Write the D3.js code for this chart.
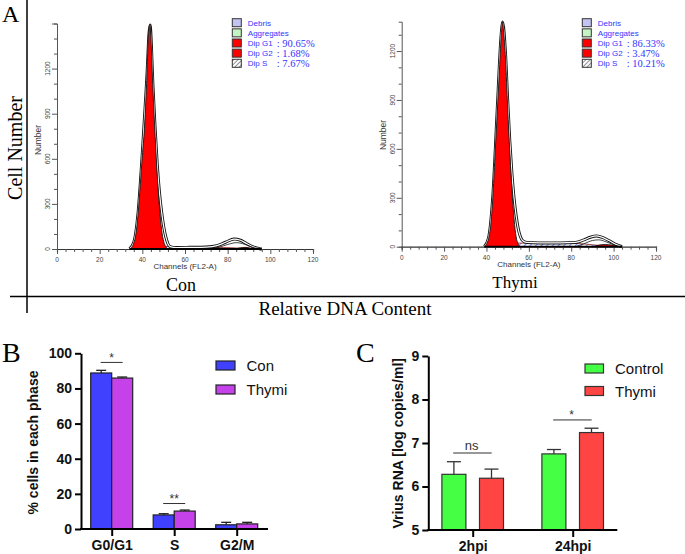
<!DOCTYPE html>
<html><head><meta charset="utf-8">
<script src="https://cdn.jsdelivr.net/npm/d3@7"></script>
<style>body{margin:0;background:#fff}svg{display:block}</style>
</head><body>
<svg id="c" width="685" height="554"></svg>
<script>
// ---------- DATA ----------
// Histogram samples [channel, count]
const conG1 = [[34,0],[35,10],[36,40],[37,100],[38,230],[39,420],[40,620],[41,800],[42,1100],[43,1450],[43.6,1490],[44,1400],[45,1050],[46,750],[47,480],[48,280],[49,130],[50,50],[51,15],[52,0]];
const conFit = [[34,0],[36,45],[38,240],[40,640],[42,1110],[43.6,1490],[45,1080],[46,800],[47,560],[48,380],[49,250],[50,150],[51,80],[52,35],[53,16],[56,10],[62,11],[70,13],[75,22],[79,45],[83,66],[86,58],[89,35],[92,14],[95,2],[96,0]];
const conInner = [[72,0],[76,12],[80,30],[84,42],[87,36],[90,20],[93,6],[95,0]];
const conS = [[38,0],[42,14],[47,20],[52,16],[60,12],[70,11],[78,10],[85,6],[90,0]];
const conG2 = [[83,0],[86,7],[88,11],[90,8],[92,0]];
const conAgg = [[84,0],[86,8],[88,10],[90,5],[91,0]];

const thyG1 = [[39,0],[40,15],[41,50],[42,130],[43,300],[44,550],[45,800],[46,1050],[47,1300],[47.6,1378],[48,1330],[49,1150],[50,850],[51,580],[52,350],[53,170],[54,60],[55,15],[56,0]];
const thyFit = [[39,0],[41,55],[43,310],[45,820],[47,1310],[47.6,1378],[49,1180],[50,900],[51,650],[52,450],[53,300],[54,190],[55,110],[56,62],[57,38],[59,26],[65,23],[75,23],[82,26],[86,42],[89,58],[92,66],[95,56],[98,36],[101,14],[104,0]];
const thyInner = [[82,0],[86,18],[90,38],[93,42],[96,32],[100,12],[103,0]];
const thyS = [[43,0],[47,14],[53,22],[62,22],[72,22],[82,20],[90,12],[97,0]];
const thyG2 = [[90,0],[93,10],[96,14],[99,10],[102,0]];
const thyAgg = [[95,0],[97,5],[99,6],[101,0]];

const legendLabels = ["Debris","Aggregates","Dip G1","Dip G2","Dip S"];
const conPct = ["","","90.65%","1.68%","7.67%"];
const thyPct = ["","","86.33%","3.47%","10.21%"];
const histYTicks = [0,300,600,900,1200];
const histXTicks = [0,20,40,60,80,100,120];

// Panel B
const phases = ["G0/G1","S","G2/M"];
const conMean = [88.8,8.0,2.4];
const conErr = [1.5,0.7,1.4];
const thymiMean = [85.9,10.2,2.9];
const thymiErr = [0.6,0.6,0.9];
const bTicks = [0,20,40,60,80,100];

// Panel C
const times = ["2hpi","24hpi"];
const ctrlRNA = [6.28,6.75];
const ctrlRNAErr = [0.29,0.10];
const thyRNA = [6.19,7.24];
const thyRNAErr = [0.21,0.10];
const cTicks = [5,6,7,8,9];

// ---------- DRAW ----------
const svg = d3.select("#c");
const defs = svg.append("defs");
const pat = defs.append("pattern").attr("id","hatch").attr("patternUnits","userSpaceOnUse")
  .attr("width",4).attr("height",4).attr("patternTransform","rotate(45)");
pat.append("rect").attr("width",4).attr("height",4).attr("fill","#fff");
pat.append("line").attr("x1",0).attr("y1",0).attr("x2",0).attr("y2",4).attr("stroke","#3344ff").attr("stroke-width",1.3);
const pat2 = defs.append("pattern").attr("id","hatch2").attr("patternUnits","userSpaceOnUse")
  .attr("width",3).attr("height",3).attr("patternTransform","rotate(45)");
pat2.append("rect").attr("width",3).attr("height",3).attr("fill","#fff");
pat2.append("line").attr("x1",0).attr("y1",0).attr("x2",0).attr("y2",3).attr("stroke","#223").attr("stroke-width",1);

const serif = "'Liberation Serif','Times New Roman',serif";
const sans = "'Liberation Sans',Arial,sans-serif";

// frame
svg.append("line").attr("x1",27).attr("x2",27).attr("y1",0).attr("y2",313).attr("stroke","#000").attr("stroke-width",1.5);
svg.append("line").attr("x1",10).attr("x2",685).attr("y1",296.5).attr("y2",296.5).attr("stroke","#000").attr("stroke-width",1.5);
svg.append("text").attr("x",2).attr("y",21.5).attr("font-family",serif).attr("font-size",24).text("A");
svg.append("text").attr("transform","translate(22,148) rotate(-90)").attr("text-anchor","middle")
  .attr("font-family",serif).attr("font-size",20).text("Cell Number");
svg.append("text").attr("x",345).attr("y",315).attr("text-anchor","middle")
  .attr("font-family",serif).attr("font-size",19).text("Relative DNA Content");

function histogram(cfg){
  const x = d3.scaleLinear().domain([0,120]).range([cfg.x0,cfg.x1]);
  const y = d3.scaleLinear().domain([0,cfg.ymax]).range([cfg.y0,cfg.yTop]);
  const g = svg.append("g");
  const area = d3.area().x(d=>x(d[0])).y0(y(0)).y1(d=>y(d[1])).curve(d3.curveMonotoneX);
  const line = d3.line().x(d=>x(d[0])).y(d=>y(d[1])).curve(d3.curveMonotoneX);
  // axes
  const yAx = d3.axisLeft(y).tickValues(d3.range(0,cfg.ymax+1,100)).tickSize(3).tickFormat("");
  const ga = g.append("g").attr("transform",`translate(${cfg.x0},0)`).call(yAx);
  ga.selectAll("path,line").attr("stroke","#555");
  ga.selectAll(".tick line").filter(d=>d%300===0).attr("x2",-5);
  histYTicks.forEach(t=>{
    g.append("text").attr("transform",`translate(${cfg.x0-7},${y(t)}) rotate(-90)`).attr("text-anchor","middle")
      .attr("font-family",sans).attr("font-size",6.5).attr("fill","#444").text(t);
  });
  const xAx = d3.axisBottom(x).tickValues(d3.range(0,121,4)).tickSize(3).tickFormat("");
  const gx = g.append("g").attr("transform",`translate(0,${cfg.y0})`).call(xAx);
  gx.selectAll("path,line").attr("stroke","#555");
  gx.selectAll(".tick line").filter(d=>d%20===0).attr("y2",5);
  gx.select("path").attr("stroke","#333").attr("stroke-width",1.2);
  histXTicks.forEach(t=>{
    g.append("text").attr("x",x(t)).attr("y",cfg.y0+13).attr("text-anchor","middle")
      .attr("font-family",sans).attr("font-size",6.5).attr("fill","#444").text(t);
  });
  g.append("text").attr("x",x(60)).attr("y",cfg.y0+20).attr("text-anchor","middle")
    .attr("font-family",sans).attr("font-size",8).attr("fill","#333").text("Channels (FL2-A)");
  g.append("text").attr("transform",`translate(${cfg.x0-16},${cfg.numY}) rotate(-90)`).attr("text-anchor","middle")
    .attr("font-family",sans).attr("font-size",8.5).attr("fill","#333").text("Number");
  // marks
  g.append("path").datum(cfg.S).attr("d",area).attr("fill","url(#hatch)").attr("stroke","#8a1a1a").attr("stroke-width",0.8);
  g.append("path").datum(cfg.fit).attr("d",line).attr("fill","none").attr("stroke","#111").attr("stroke-width",3);
  g.append("path").datum(cfg.fit).attr("d",line).attr("fill","none").attr("stroke","#fff").attr("stroke-width",1.2);
  g.append("path").datum(cfg.G1).attr("d",area).attr("fill","#ff0000").attr("stroke","#222").attr("stroke-width",1);
  g.append("path").datum(cfg.inner).attr("d",line).attr("fill","none").attr("stroke","#111").attr("stroke-width",0.8);
  g.append("path").datum(cfg.agg).attr("d",area).attr("fill","#9ee89e").attr("stroke","#222").attr("stroke-width",0.6);
  g.append("path").datum(cfg.G2).attr("d",area).attr("fill","#cc0000").attr("stroke","#111").attr("stroke-width",0.8);
  g.append("line").attr("x1",x(cfg.G1[0][0])).attr("x2",x(cfg.fit[cfg.fit.length-1][0])).attr("y1",cfg.y0).attr("y2",cfg.y0)
    .attr("stroke","#000").attr("stroke-width",1.8);
  // legend
  const fills = ["#c4c4f4","#c4f4c4","#ff0000","#ff0000","url(#hatch2)"];
  legendLabels.forEach((lab,i)=>{
    const yy = 22.7 + i*10.15;
    g.append("rect").attr("x",cfg.lx).attr("y",yy-4).attr("width",9).attr("height",8)
      .attr("fill",fills[i]).attr("stroke","#333").attr("stroke-width",1);
    g.append("text").attr("x",cfg.lx+15.5).attr("y",yy+3).attr("font-family",sans).attr("font-size",8)
      .attr("fill","#3333ff").text(lab);
    if(cfg.pct[i]){
      g.append("text").attr("x",cfg.lx+44.5).attr("y",yy+3.5).attr("font-family",serif).attr("font-size",10.5)
        .attr("fill","#3333ff").text(":\u00a0" + cfg.pct[i]);
    }
  });
  g.append("text").attr("x",cfg.nameX).attr("y",cfg.nameY).attr("text-anchor","middle")
    .attr("font-family",serif).attr("font-size",cfg.nameSize).text(cfg.name);
}

histogram({x0:57,x1:313,y0:249,yTop:23.5,ymax:1500,G1:conG1,fit:conFit,inner:conInner,S:conS,G2:conG2,agg:conAgg,
  lx:232.3,pct:conPct,name:"Con",nameX:181,nameY:291,nameSize:18,numY:140});
histogram({x0:401.7,x1:656,y0:246.7,yTop:21.7,ymax:1380,G1:thyG1,fit:thyFit,inner:thyInner,S:thyS,G2:thyG2,agg:thyAgg,
  lx:582.3,pct:thyPct,name:"Thymi",nameX:515,nameY:288,nameSize:17,numY:135});

// ---------- Panel B ----------
(function(){
  const g = svg.append("g");
  const y = d3.scaleLinear().domain([0,100]).range([529,353.3]);
  const x = d3.scalePoint().domain(phases).range([111.7,236.7]);
  const bw = 21;
  g.append("text").attr("x",2).attr("y",362).attr("font-family",serif).attr("font-size",28).text("B");
  const series = [{m:conMean,e:conErr,c:"#4040ff",o:-1},{m:thymiMean,e:thymiErr,c:"#c542ea",o:0}];
  series.forEach(s=>{
    phases.forEach((p,i)=>{
      const bx = x(p)+s.o*bw;
      g.append("line").attr("x1",bx+bw/2).attr("x2",bx+bw/2).attr("y1",y(s.m[i])).attr("y2",y(s.m[i]+s.e[i])).attr("stroke","#222").attr("stroke-width",1.3);
      g.append("line").attr("x1",bx+bw/2-5).attr("x2",bx+bw/2+5).attr("y1",y(s.m[i]+s.e[i])).attr("y2",y(s.m[i]+s.e[i])).attr("stroke","#222").attr("stroke-width",1.3);
      g.append("rect").attr("x",bx).attr("y",y(s.m[i])).attr("width",bw).attr("height",y(0)-y(s.m[i]))
        .attr("fill",s.c).attr("stroke","#222").attr("stroke-width",1.2);
    });
  });
  const yAx = d3.axisLeft(y).tickValues(bTicks).tickSize(6).tickPadding(3).tickSizeOuter(0);
  const ga = g.append("g").attr("transform","translate(81,0)").call(yAx);
  ga.selectAll("path,line").attr("stroke","#000").attr("stroke-width",2);
  ga.selectAll("text").attr("font-family",sans).attr("font-size",14).attr("font-weight","bold").attr("fill","#111");
  g.append("line").attr("x1",80).attr("x2",268).attr("y1",529).attr("y2",529).attr("stroke","#000").attr("stroke-width",2);
  const xAx = d3.axisBottom(x).tickSize(7).tickPadding(4).tickSizeOuter(0);
  const gx = g.append("g").attr("transform","translate(0,529)").call(xAx);
  gx.select("path").remove();
  gx.selectAll("line").attr("stroke","#000").attr("stroke-width",2);
  gx.selectAll("text").attr("font-family",sans).attr("font-size",14).attr("font-weight","bold").attr("fill","#111");
  g.append("text").attr("transform","translate(38,442.5) rotate(-90)").attr("text-anchor","middle")
    .attr("font-family",sans).attr("font-size",14).attr("font-weight","bold").attr("fill","#111").text("% cells in each phase");
  // significance
  const sig = [{p:"G0/G1",yv:94.8,t:"*"},{p:"S",yv:14.5,t:"**"}];
  sig.forEach(s=>{
    const yy = y(s.yv);
    g.append("line").attr("x1",x(s.p)-11).attr("x2",x(s.p)+11).attr("y1",yy).attr("y2",yy).attr("stroke","#333").attr("stroke-width",1);
    g.append("text").attr("x",x(s.p)).attr("y",yy-0.5).attr("text-anchor","middle").attr("font-family",sans)
      .attr("font-size",12).attr("fill","#333").text(s.t);
  });
  // legend
  const leg = [["Con","#4040ff"],["Thymi","#c542ea"]];
  leg.forEach((l,i)=>{
    const yy = 365.5 + i*24;
    g.append("rect").attr("x",216).attr("y",yy-4.5).attr("width",19).attr("height",9).attr("fill",l[1]).attr("stroke","#222").attr("stroke-width",1.2);
    g.append("text").attr("x",246.5).attr("y",yy+5.5).attr("font-family",sans).attr("font-size",15).attr("fill","#111").text(l[0]);
  });
})();

// ---------- Panel C ----------
(function(){
  const g = svg.append("g");
  const y = d3.scaleLinear().domain([5,9]).range([530,356]);
  const x = d3.scalePoint().domain(times).range([472.7,572.7]);
  const bw = 24, off = 18.8;
  g.append("text").attr("x",356).attr("y",361.5).attr("font-family",serif).attr("font-size",28).text("C");
  const series = [{m:ctrlRNA,e:ctrlRNAErr,c:"#44ff44",o:-off},{m:thyRNA,e:thyRNAErr,c:"#ff4444",o:off}];
  series.forEach(s=>{
    times.forEach((t,i)=>{
      const cx = x(t)+s.o;
      g.append("line").attr("x1",cx).attr("x2",cx).attr("y1",y(s.m[i])).attr("y2",y(s.m[i]+s.e[i])).attr("stroke","#333").attr("stroke-width",1.3);
      g.append("line").attr("x1",cx-7).attr("x2",cx+7).attr("y1",y(s.m[i]+s.e[i])).attr("y2",y(s.m[i]+s.e[i])).attr("stroke","#333").attr("stroke-width",1.3);
      g.append("rect").attr("x",cx-bw/2).attr("y",y(s.m[i])).attr("width",bw).attr("height",y(5)-y(s.m[i]))
        .attr("fill",s.c).attr("stroke","#333").attr("stroke-width",1.2);
    });
  });
  const yAx = d3.axisLeft(y).tickValues(cTicks).tickFormat(d3.format("d")).tickSize(6).tickPadding(3).tickSizeOuter(0);
  const ga = g.append("g").attr("transform","translate(428.3,0)").call(yAx);
  ga.selectAll("path,line").attr("stroke","#000").attr("stroke-width",2);
  ga.selectAll("text").attr("font-family",sans).attr("font-size",14).attr("font-weight","bold").attr("fill","#111");
  g.append("line").attr("x1",427.3).attr("x2",617.3).attr("y1",530).attr("y2",530).attr("stroke","#000").attr("stroke-width",2);
  const xAx = d3.axisBottom(x).tickSize(7).tickPadding(4).tickSizeOuter(0);
  const gx = g.append("g").attr("transform","translate(0,530)").call(xAx);
  gx.select("path").remove();
  gx.selectAll("line").attr("stroke","#000").attr("stroke-width",2);
  gx.selectAll("text").attr("font-family",sans).attr("font-size",14).attr("font-weight","bold").attr("fill","#111");
  g.append("text").attr("transform","translate(403,443.3) rotate(-90)").attr("text-anchor","middle")
    .attr("font-family",sans).attr("font-size",14).attr("font-weight","bold").attr("fill","#111").text("Vrius RNA [log copies/ml]");
  const sig = [{t:"2hpi",yv:6.77,s:"ns",fs:13,dy:-3},{t:"24hpi",yv:7.53,s:"*",fs:12,dy:-0.5}];
  sig.forEach(s=>{
    const yy = y(s.yv);
    g.append("line").attr("x1",x(s.t)-19.5).attr("x2",x(s.t)+19).attr("y1",yy).attr("y2",yy).attr("stroke","#333").attr("stroke-width",1);
    g.append("text").attr("x",x(s.t)-1).attr("y",yy+s.dy).attr("text-anchor","middle").attr("font-family",sans)
      .attr("font-size",s.fs).attr("fill","#333").text(s.s);
  });
  const leg = [["Control","#44ff44"],["Thymi","#ff4444"]];
  leg.forEach((l,i)=>{
    const yy = 368.5 + i*22.5;
    g.append("rect").attr("x",585).attr("y",yy-4.5).attr("width",18.5).attr("height",9).attr("fill",l[1]).attr("stroke","#333").attr("stroke-width",1.2);
    g.append("text").attr("x",615).attr("y",yy+5.5).attr("font-family",sans).attr("font-size",15).attr("fill","#111").text(l[0]);
  });
})();
</script>
</body></html>
